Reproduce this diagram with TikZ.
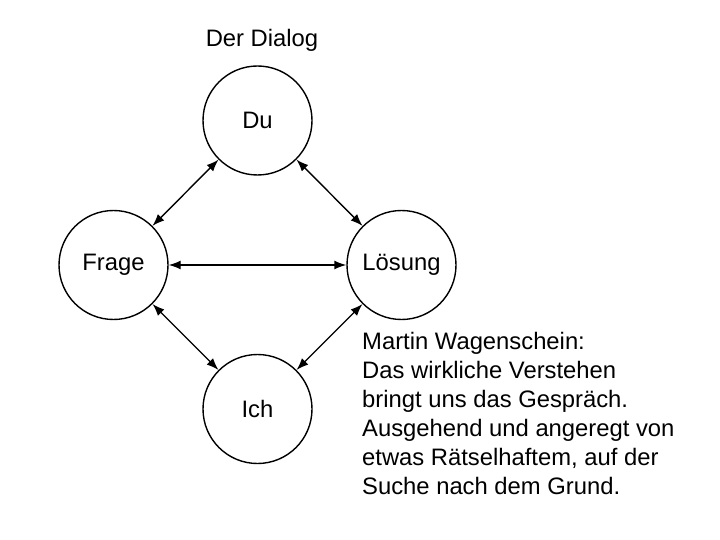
\documentclass[tikz,border=0pt]{standalone}
\usepackage{fontspec}
\setmainfont{Liberation Sans}
\usetikzlibrary{arrows.meta}

\begin{document}
\begin{tikzpicture}[x=1pt,y=1pt]
\tikzstyle{every node}+=[inner sep=0pt,font=\fontsize{23.8}{29}\selectfont]
\tikzstyle{kreis}=[circle,draw,line width=1.4pt,minimum size=109pt]
\tikzstyle{pfeil}=[line width=1.4pt,{Latex[length=12pt,width=9pt]}-{Latex[length=12pt,width=9pt]}]
\useasboundingbox (0,0) rectangle (720,-540);
\node (titel) at (262,-40) {Der Dialog};
\node [kreis] (du) at (257.5,-120.5) {Du};
\node [kreis] (frage) at (113.5,-265) {Frage};
\node [kreis] (loesung) at (401.5,-265) {Lösung};
\node [kreis] (ich) at (257.5,-409) {Ich};
\draw [pfeil] (frage) -- (du);
\draw [pfeil] (du) -- (loesung);
\draw [pfeil] (frage) -- (loesung);
\draw [pfeil] (frage) -- (ich);
\draw [pfeil] (ich) -- (loesung);
\node [anchor=north west,align=left] (zitat) at (362,-332.5) {Martin Wagenschein:\\Das wirkliche Verstehen\\bringt uns das Gespräch.\\Ausgehend und angeregt von\\etwas Rätselhaftem, auf der\\Suche nach dem Grund.};
\end{tikzpicture}
\end{document}
